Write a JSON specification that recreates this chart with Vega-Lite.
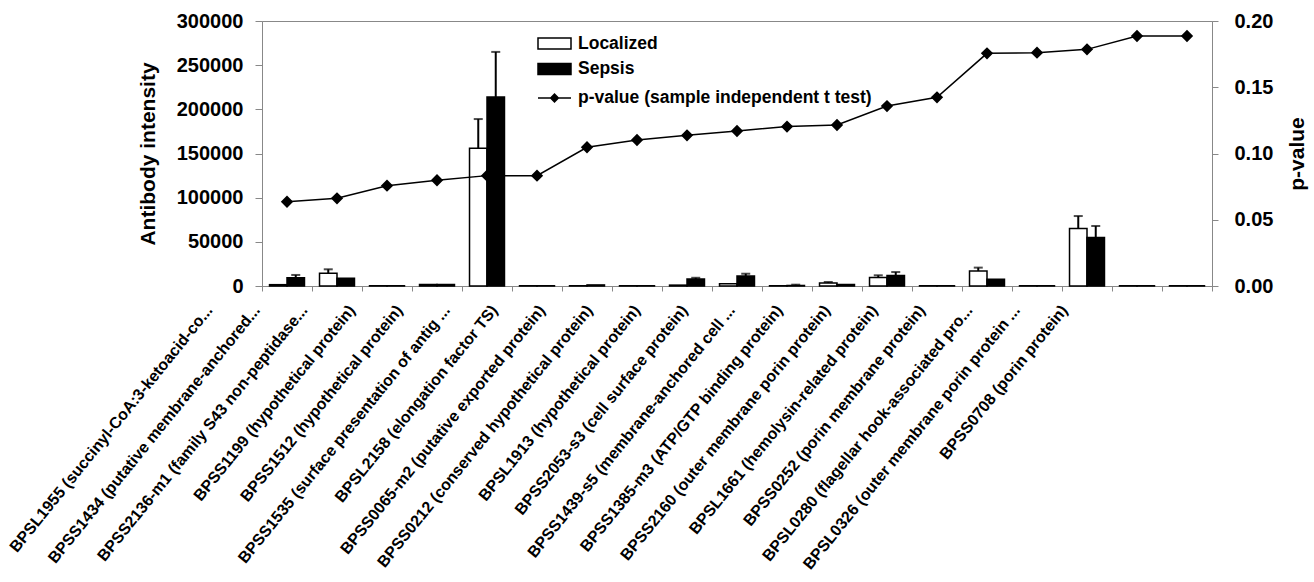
{
  "$schema": "https://vega.github.io/schema/vega-lite/v6.json",
  "width": 950,
  "height": 265,
  "autosize": {"type": "none"},
  "padding": {"left": 262, "top": 21, "right": 102, "bottom": 296},
  "background": "white",
  "config": {
    "font": "Liberation Sans",
    "view": {"stroke": "#888888", "strokeWidth": 1}
  },
  "data": {
    "values": [
      {"protein": "BPSL1955 (succinyl-CoA:3-ketoacid-co...", "group": "Localized", "value": 1500, "p": 0.0636},
      {"protein": "BPSL1955 (succinyl-CoA:3-ketoacid-co...", "group": "Sepsis", "value": 9400, "top": 12500, "p": 0.0636},
      {"protein": "BPSS1434 (putative membrane-anchored...", "group": "Localized", "value": 14400, "top": 18900, "p": 0.0662},
      {"protein": "BPSS1434 (putative membrane-anchored...", "group": "Sepsis", "value": 8700, "p": 0.0662},
      {"protein": "BPSS2136-m1 (family S43 non-peptidase...", "group": "Localized", "value": 300, "p": 0.0757},
      {"protein": "BPSS2136-m1 (family S43 non-peptidase...", "group": "Sepsis", "value": 300, "p": 0.0757},
      {"protein": "BPSS1199 (hypothetical protein)", "group": "Localized", "value": 1700, "p": 0.0798},
      {"protein": "BPSS1199 (hypothetical protein)", "group": "Sepsis", "value": 1800, "p": 0.0798},
      {"protein": "BPSS1512 (hypothetical protein)", "group": "Localized", "value": 156000, "top": 189000, "p": 0.0833},
      {"protein": "BPSS1512 (hypothetical protein)", "group": "Sepsis", "value": 214000, "top": 265000, "p": 0.0833},
      {"protein": "BPSS1535 (surface presentation of antig ...", "group": "Localized", "value": 300, "p": 0.0833},
      {"protein": "BPSS1535 (surface presentation of antig ...", "group": "Sepsis", "value": 300, "p": 0.0833},
      {"protein": "BPSL2158 (elongation factor TS)", "group": "Localized", "value": 300, "p": 0.1047},
      {"protein": "BPSL2158 (elongation factor TS)", "group": "Sepsis", "value": 1200, "p": 0.1047},
      {"protein": "BPSS0065-m2 (putative exported protein)", "group": "Localized", "value": 300, "p": 0.1102},
      {"protein": "BPSS0065-m2 (putative exported protein)", "group": "Sepsis", "value": 300, "p": 0.1102},
      {"protein": "BPSS0212 (conserved hypothetical protein)", "group": "Localized", "value": 1000, "p": 0.1137},
      {"protein": "BPSS0212 (conserved hypothetical protein)", "group": "Sepsis", "value": 7900, "top": 9300, "p": 0.1137},
      {"protein": "BPSL1913 (hypothetical protein)", "group": "Localized", "value": 2600, "p": 0.117},
      {"protein": "BPSL1913 (hypothetical protein)", "group": "Sepsis", "value": 11300, "top": 13900, "p": 0.117},
      {"protein": "BPSS2053-s3 (cell surface protein)", "group": "Localized", "value": 300, "p": 0.1203},
      {"protein": "BPSS2053-s3 (cell surface protein)", "group": "Sepsis", "value": 600, "top": 1500, "p": 0.1203},
      {"protein": "BPSS1439-s5 (membrane-anchored cell ...", "group": "Localized", "value": 3400, "top": 4500, "p": 0.1215},
      {"protein": "BPSS1439-s5 (membrane-anchored cell ...", "group": "Sepsis", "value": 1700, "p": 0.1215},
      {"protein": "BPSS1385-m3 (ATP/GTP binding protein)", "group": "Localized", "value": 9500, "top": 12100, "p": 0.1358},
      {"protein": "BPSS1385-m3 (ATP/GTP binding protein)", "group": "Sepsis", "value": 11800, "top": 15800, "p": 0.1358},
      {"protein": "BPSS2160 (outer membrane porin protein)", "group": "Localized", "value": 300, "p": 0.1424},
      {"protein": "BPSS2160 (outer membrane porin protein)", "group": "Sepsis", "value": 300, "p": 0.1424},
      {"protein": "BPSL1661 (hemolysin-related protein)", "group": "Localized", "value": 17000, "top": 20800, "p": 0.1756},
      {"protein": "BPSL1661 (hemolysin-related protein)", "group": "Sepsis", "value": 7600, "p": 0.1756},
      {"protein": "BPSS0252 (porin membrane protein)", "group": "Localized", "value": 300, "p": 0.1761},
      {"protein": "BPSS0252 (porin membrane protein)", "group": "Sepsis", "value": 300, "p": 0.1761},
      {"protein": "BPSL0280 (flagellar hook-associated pro...", "group": "Localized", "value": 65000, "top": 79200, "p": 0.1786},
      {"protein": "BPSL0280 (flagellar hook-associated pro...", "group": "Sepsis", "value": 54800, "top": 67900, "p": 0.1786},
      {"protein": "BPSL0326 (outer membrane porin protein ...", "group": "Localized", "value": 300, "p": 0.1887},
      {"protein": "BPSL0326 (outer membrane porin protein ...", "group": "Sepsis", "value": 300, "p": 0.1887},
      {"protein": "BPSS0708 (porin protein)", "group": "Localized", "value": 300, "p": 0.1887},
      {"protein": "BPSS0708 (porin protein)", "group": "Sepsis", "value": 300, "p": 0.1887}
    ]
  },
  "layer": [
    {
      "layer": [
        {
          "mark": {"type": "bar", "stroke": "black", "strokeWidth": 1.5},
          "encoding": {
            "x": {
              "field": "protein", "type": "nominal", "sort": null,
              "scale": {"paddingInner": 0, "paddingOuter": 0},
              "axis": {
                "title": null,
                "labelAngle": -51,
                "labelAlign": "right",
                "labelBaseline": "middle",
                "labelFont": "Liberation Sans",
                "labelFontSize": 16,
                "labelFontWeight": "bold",
                "labelColor": "black",
                "labelPadding": 16,
                "labelOffset": {"expr": "-0.05 * scale('x', datum.value) - 78"},
                "labelLimit": 600,
                "labelOverlap": false,
                "tickSize": 5,
                "tickBand": "extent",
                "tickColor": "#888888",
                "domainColor": "#888888"
              }
            },
            "xOffset": {"field": "group", "type": "nominal", "scale": {"paddingInner": 0, "paddingOuter": 0.43}},
            "y": {
              "field": "value", "type": "quantitative",
              "title": "Antibody intensity",
              "scale": {"domain": [0, 300000]},
              "axis": {
                "values": [0, 50000, 100000, 150000, 200000, 250000, 300000],
                "format": "d",
                "grid": false,
                "labelFont": "Liberation Sans",
                "labelFontSize": 20,
                "labelFontWeight": "bold",
                "labelColor": "black",
                "labelPadding": 12,
                "tickSize": 7,
                "tickColor": "#888888",
                "domainColor": "#888888",
                "titleFont": "Liberation Sans",
                "titleFontSize": 21,
                "titleFontWeight": "bold",
                "titleColor": "black",
                "titlePadding": 18
              }
            },
            "fill": {
              "field": "group", "type": "nominal",
              "scale": {"domain": ["Localized", "Sepsis"], "range": ["white", "black"]},
              "legend": {
                "title": null,
                "orient": "none",
                "legendX": 280.5,
                "legendY": 10.5,
                "padding": 0,
                "symbolType": "M-1.5,-0.5H1.5V0.5H-1.5Z",
                "symbolSize": 484,
                "symbolStrokeColor": "black",
                "symbolStrokeWidth": 1.5,
                "labelFont": "Liberation Sans",
                "labelFontSize": 17.5,
                "labelFontWeight": "bold",
                "labelColor": "black",
                "labelOffset": 11.5,
                "labelLimit": 400,
                "rowPadding": 4.5
              }
            }
          }
        },
        {
          "transform": [{"filter": "isValid(datum.top)"}],
          "mark": {"type": "rule", "color": "black", "strokeWidth": 2},
          "encoding": {
            "x": {"field": "protein", "type": "nominal", "sort": null},
            "xOffset": {"field": "group", "type": "nominal"},
            "y": {"field": "value", "type": "quantitative", "title": "Antibody intensity"},
            "y2": {"field": "top"}
          }
        },
        {
          "transform": [{"filter": "isValid(datum.top)"}],
          "mark": {"type": "tick", "color": "black", "thickness": 2},
          "encoding": {
            "x": {"field": "protein", "type": "nominal", "sort": null},
            "xOffset": {"field": "group", "type": "nominal"},
            "y": {"field": "top", "type": "quantitative", "title": "Antibody intensity"},
            "size": {"value": 9}
          }
        }
      ]
    },
    {
      "transform": [{"filter": "datum.group === 'Localized'"}],
      "mark": {
        "type": "line",
        "strokeWidth": 1.5,
        "point": {"shape": "diamond", "size": 90, "filled": true, "color": "black"}
      },
      "encoding": {
        "x": {"field": "protein", "type": "nominal", "sort": null},
        "y": {
          "field": "p", "type": "quantitative",
          "title": "p-value",
          "scale": {"domain": [0, 0.2]},
          "axis": {
            "orient": "right",
            "values": [0, 0.05, 0.1, 0.15, 0.2],
            "format": ".2f",
            "grid": false,
            "labelFont": "Liberation Sans",
            "labelFontSize": 20,
            "labelFontWeight": "bold",
            "labelColor": "black",
            "labelPadding": 16,
            "tickSize": 6,
            "tickColor": "#888888",
            "domainColor": "#888888",
            "titleFont": "Liberation Sans",
            "titleFontSize": 21,
            "titleFontWeight": "bold",
            "titleColor": "black",
            "titleAngle": 270,
            "titleBaseline": "top",
            "titlePadding": 14
          }
        },
        "stroke": {
          "datum": "p-value (sample independent t test)",
          "type": "nominal",
          "scale": {"range": ["black"]},
          "legend": {
            "title": null,
            "orient": "none",
            "legendX": 280.5,
            "legendY": 65,
            "padding": 0,
            "symbolType": "M-1.5,0H1.5M-0.35,0L0,-0.35L0.35,0L0,0.35Z",
            "symbolSize": 484,
            "symbolStrokeWidth": 1.5,
            "symbolFillColor": "black",
            "labelFont": "Liberation Sans",
            "labelFontSize": 17.5,
            "labelFontWeight": "bold",
            "labelColor": "black",
            "labelOffset": 11.5,
            "labelLimit": 400
          }
        }
      }
    }
  ],
  "resolve": {"scale": {"y": "independent"}}
}
